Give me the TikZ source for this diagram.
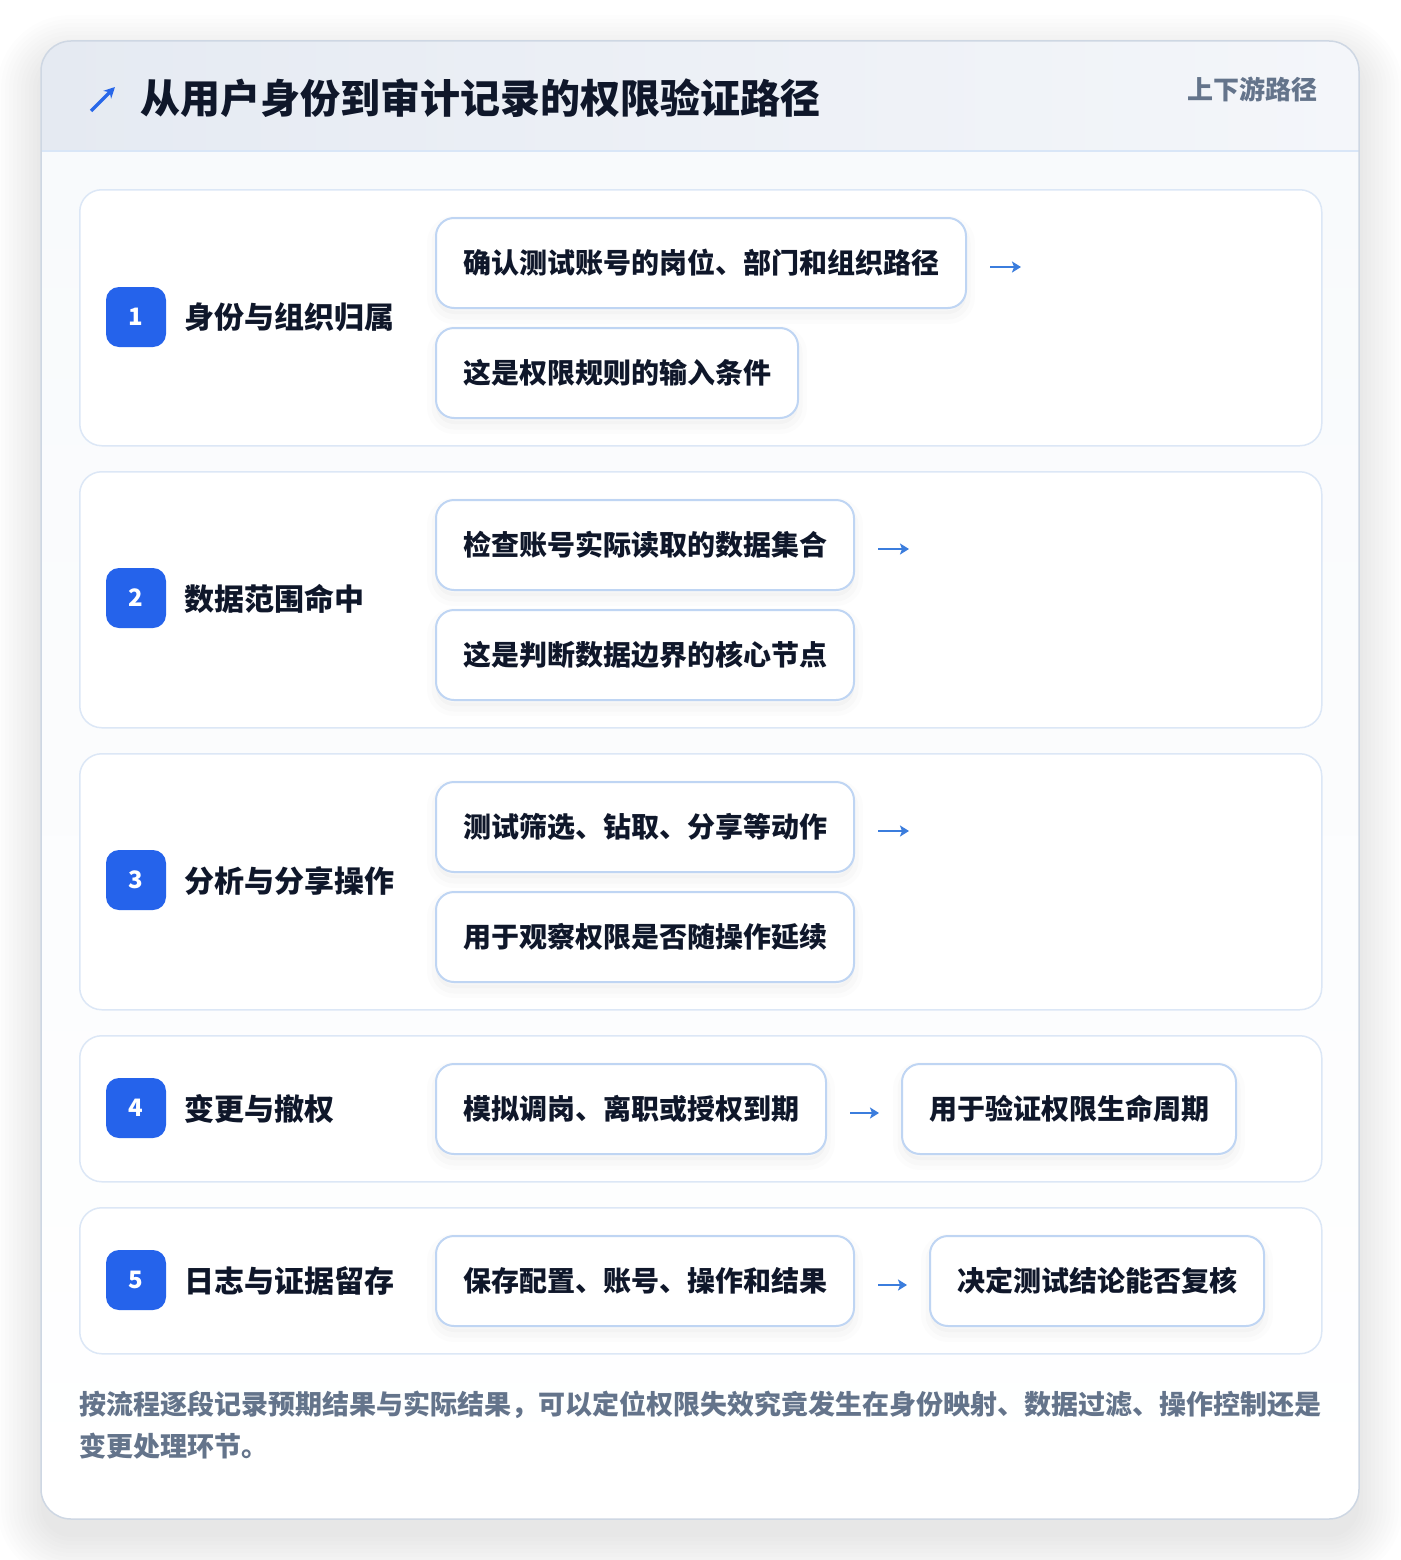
\documentclass[tikz,border=0pt]{standalone}
\usepackage{fontspec}
\setmainfont{Noto Sans CJK SC}
\usetikzlibrary{arrows.meta}
\definecolor{ink}{HTML}{0F172A}
\definecolor{muted}{HTML}{64748B}
\definecolor{rowline}{HTML}{DCE7F6}
\definecolor{boxline}{HTML}{BFD5F3}
\definecolor{badgeblue}{HTML}{2563EB}
\definecolor{arrowblue}{HTML}{3B7DDD}
\definecolor{hdrL}{HTML}{E5EAF2}
\definecolor{hdrR}{HTML}{F4F6FA}
\definecolor{cardline}{HTML}{CED7E3}
\definecolor{cardfill}{HTML}{F8FAFC}
\definecolor{hdrline}{HTML}{D9E6F7}
\newcommand\stepfnt{\bfseries\fontsize{28}{34}\selectfont}
\newcommand\labelfnt{\bfseries\fontsize{30}{36}\selectfont}
\newcommand\badgefnt{\bfseries\fontsize{24}{28}\selectfont}
\newcommand\titlefnt{\bfseries\fontsize{40}{48}\selectfont}
\newcommand\tagfnt{\bfseries\fontsize{26}{30}\selectfont}
\newcommand\notefnt{\bfseries\fontsize{27}{32}\selectfont}
\begin{document}
\begin{tikzpicture}[x=1pt,y=-1pt,
  rowcard/.style={draw=rowline, line width=1.5pt, fill=white, rounded corners=22pt, anchor=north west, inner sep=0pt, minimum width=1242pt},
  softshadow/.style={
    preaction={draw=black, draw opacity=0.012, line width=18pt, transform canvas={yshift=-7pt}},
    preaction={draw=black, draw opacity=0.015, line width=9pt, transform canvas={yshift=-7pt}},
    preaction={fill=black, fill opacity=0.02, draw=none, transform canvas={yshift=-6pt}}},
  stepbox/.style={softshadow, draw=boxline, line width=2pt, fill=white, rounded corners=18pt, minimum height=90pt, inner sep=0pt, font=\stepfnt, text=ink, anchor=north west},
  badge/.style={fill=badgeblue, rounded corners=13pt, minimum width=60pt, minimum height=60pt, inner sep=0pt, text=white, font=\badgefnt},
  rowlabel/.style={anchor=west, inner sep=0pt, font=\labelfnt, text=ink},
  flow/.style={draw=arrowblue, line width=2.8pt, -{Stealth[length=9pt,width=11pt,inset=2pt]}},
]
\useasboundingbox (0,0) rectangle (1400,1560);
\fill[white] (0,0) rectangle (1400,1560);
% outer card shadow
\foreach \s in {0,4,...,44}{
  \fill[black, opacity=0.008, rounded corners={30+\s}] ({41-\s},{59-\s}) rectangle ({1359+\s},{1537+\s});
}
% outer card
\begin{scope}
  \clip[rounded corners=30pt] (41,41) rectangle (1359,1519);
  \shade[top color=cardfill, bottom color=white] (41,151) rectangle (1359,1519);
  \shade[left color=hdrL, right color=hdrR] (41,41) rectangle (1359,151);
\end{scope}
\draw[hdrline, line width=2pt] (41,151) -- (1359,151);
\draw[cardline, line width=1.5pt, rounded corners=30pt] (41,41) rectangle (1359,1519);

% header
\draw[badgeblue!85!arrowblue, line width=3.4pt, -{Stealth[length=11pt,width=11pt]}] (91,111) -- (115,87);
\node[anchor=west, inner sep=0pt, font=\titlefnt, text=ink] (title) at (140,98) {从用户身份到审计记录的权限验证路径};
\node[anchor=east, inner sep=0pt, font=\tagfnt, text=muted] (tag) at (1318,89) {上下游路径};

% rows
\node[rowcard, minimum height=256pt] (r1) at (79,189) {};
\node[rowcard, minimum height=256pt] (r2) at (79,471) {};
\node[rowcard, minimum height=256pt] (r3) at (79,753) {};
\node[rowcard, minimum height=146pt] (r4) at (79,1035) {};
\node[rowcard, minimum height=146pt] (r5) at (79,1207) {};

% badges and labels
\node[badge] (b1) at (136,317) {1};
\node[rowlabel] (l1) at (184,317) {身份与组织归属};
\node[badge] (b2) at (136,598) {2};
\node[rowlabel] (l2) at (184,599) {数据范围命中};
\node[badge] (b3) at (136,880) {3};
\node[rowlabel] (l3) at (184,881) {分析与分享操作};
\node[badge] (b4) at (136,1108) {4};
\node[rowlabel] (l4) at (184,1109) {变更与撤权};
\node[badge] (b5) at (136,1280) {5};
\node[rowlabel] (l5) at (184,1281) {日志与证据留存};

% step boxes
\node[stepbox, minimum width=530pt] (s1a) at (435,217) {确认测试账号的岗位、部门和组织路径};
\node[stepbox, minimum width=362pt] (s1b) at (435,327) {这是权限规则的输入条件};
\node[stepbox, minimum width=418pt] (s2a) at (435,499) {检查账号实际读取的数据集合};
\node[stepbox, minimum width=418pt] (s2b) at (435,609) {这是判断数据边界的核心节点};
\node[stepbox, minimum width=418pt] (s3a) at (435,781) {测试筛选、钻取、分享等动作};
\node[stepbox, minimum width=418pt] (s3b) at (435,891) {用于观察权限是否随操作延续};
\node[stepbox, minimum width=390pt] (s4a) at (435,1063) {模拟调岗、离职或授权到期};
\node[stepbox, minimum width=334pt] (s4b) at (901,1063) {用于验证权限生命周期};
\node[stepbox, minimum width=418pt] (s5a) at (435,1235) {保存配置、账号、操作和结果};
\node[stepbox, minimum width=334pt] (s5b) at (929,1235) {决定测试结论能否复核};

% arrows
\coordinate (e1) at ([xshift=54pt,yshift=-4pt]s1a.east);
\coordinate (e2) at ([xshift=54pt,yshift=-4pt]s2a.east);
\coordinate (e3) at ([xshift=54pt,yshift=-4pt]s3a.east);
\draw[flow] ([xshift=23pt,yshift=-4pt]s1a.east) -- (e1);
\draw[flow] ([xshift=23pt,yshift=-4pt]s2a.east) -- (e2);
\draw[flow] ([xshift=23pt,yshift=-4pt]s3a.east) -- (e3);
\draw[flow] ([xshift=23pt,yshift=-4pt]s4a.east) -- ([xshift=-22pt,yshift=-4pt]s4b.west);
\draw[flow] ([xshift=23pt,yshift=-4pt]s5a.east) -- ([xshift=-22pt,yshift=-4pt]s5b.west);

% footnote
\node[anchor=west, inner sep=0pt, font=\notefnt, text=muted] (n1) at (79,1405) {按流程逐段记录预期结果与实际结果，可以定位权限失效究竟发生在身份映射、数据过滤、操作控制还是};
\node[anchor=west, inner sep=0pt, font=\notefnt, text=muted] (n2) at (79,1446) {变更处理环节。};
\end{tikzpicture}
\end{document}
